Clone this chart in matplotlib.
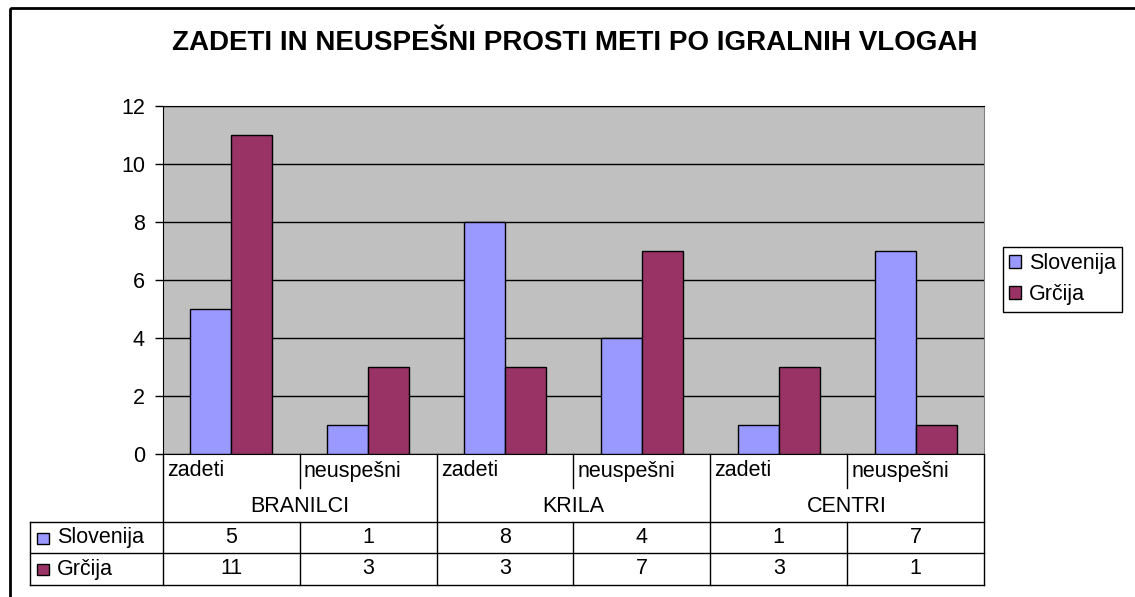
import matplotlib.pyplot as plt
from matplotlib.patches import Rectangle, Patch
from matplotlib.transforms import Affine2D, blended_transform_factory

title = 'ZADETI IN NEUSPEŠNI PROSTI METI PO IGRALNIH VLOGAH'
groups = ['BRANILCI', 'KRILA', 'CENTRI']
subcats = ['zadeti', 'neuspešni', 'zadeti', 'neuspešni', 'zadeti', 'neuspešni']
series = ['Slovenija', 'Grčija']
slovenija = [5, 1, 8, 4, 1, 7]
grcija = [11, 3, 3, 7, 3, 1]
colors = ['#9999FF', '#993366']

plt.rcParams['font.family'] = ['Liberation Sans', 'DejaVu Sans']
fs = 15.5

W, H = 1135, 597
fig = plt.figure(figsize=(W / 100, H / 100), dpi=100)
pix = Affine2D().scale(1 / W, -1 / H).translate(0, 1) + fig.transFigure

ax = fig.add_axes([163 / W, 1 - 454 / H, 821 / W, 348 / H])
ax.set_facecolor('#C0C0C0')

n = len(subcats)
x = list(range(n))
bw = 0.3
for k, (vals, c) in enumerate(zip([slovenija, grcija], colors)):
    ax.bar([i + (k - 0.5) * bw for i in x], vals, width=bw, color=c,
           edgecolor='black', linewidth=1, zorder=3)

ax.set_xlim(-0.5, n - 0.5)
ax.set_ylim(0, 12)
ax.set_yticks(range(0, 13, 2))
ax.yaxis.grid(True, color='black', linewidth=1)
ax.set_axisbelow(True)
ax.set_xticks([])
ax.tick_params(axis='y', length=6, width=1, labelsize=fs, pad=7, direction='out')
for s in ['left', 'bottom', 'top']:
    ax.spines[s].set_color('black')
ax.spines['right'].set_color('#808080')

# data table under the plot
bt = blended_transform_factory(ax.transData, pix)
lw = 1
y_top, y_sub, y_grp, y_r1, y_r2 = 454, 488, 522, 553, 585
left = -0.5 - (163 - 30) / (821 / n)
for xi in [-0.5, 1.5, 3.5, 5.5]:
    ax.plot([xi, xi], [y_top, y_r2], color='black', lw=lw, transform=bt, clip_on=False)
for xi in [0.5, 2.5, 4.5]:
    ax.plot([xi, xi], [y_top, y_sub], color='black', lw=lw, transform=bt, clip_on=False)
    ax.plot([xi, xi], [y_grp, y_r2], color='black', lw=lw, transform=bt, clip_on=False)
ax.plot([left, left], [y_grp, y_r2], color='black', lw=lw, transform=bt, clip_on=False)
for yy in [y_grp, y_r1, y_r2]:
    ax.plot([left, n - 0.5], [yy, yy], color='black', lw=lw, transform=bt, clip_on=False)

for i, lab in enumerate(subcats):
    ax.text(i - 0.47, (y_top + y_sub) / 2, lab, transform=bt, ha='left', va='center', fontsize=fs)
for g, lab in enumerate(groups):
    ax.text(2 * g + 0.5, (y_sub + y_grp) / 2 + 1, lab, transform=bt, ha='center', va='center', fontsize=fs)
for r, (vals, name, c) in enumerate(zip([slovenija, grcija], series, colors)):
    yc = [(y_grp + y_r1) / 2, (y_r1 + y_r2) / 2][r]
    for i, v in enumerate(vals):
        ax.text(i, yc, str(v), transform=bt, ha='center', va='center', fontsize=fs)
    fig.add_artist(Rectangle((37, yc - 5), 12, 11, facecolor=c, edgecolor='black',
                             linewidth=1, transform=pix))
    fig.text(57 / W, 1 - yc / H, name, ha='left', va='center', fontsize=fs)

fig.text(575 / W, 1 - 43 / H, title, ha='center', va='center', fontsize=20, fontweight='bold')

handles = [Patch(facecolor=c, edgecolor='black', linewidth=1) for c in colors]
leg = fig.legend(handles, series, loc='upper left', bbox_to_anchor=(1003 / W, 1 - 247 / H),
                 fontsize=fs, frameon=True, fancybox=False, framealpha=1, edgecolor='black',
                 handlelength=0.55, handleheight=0.55, handletextpad=0.35, borderpad=0.3,
                 labelspacing=0.45, borderaxespad=0)
leg.get_frame().set_linewidth(1)

fig.add_artist(Rectangle((10, 8), 1300, 800, fill=False, edgecolor='black', linewidth=2, transform=pix))

fig.savefig('out.png', dpi=100, facecolor='white')
